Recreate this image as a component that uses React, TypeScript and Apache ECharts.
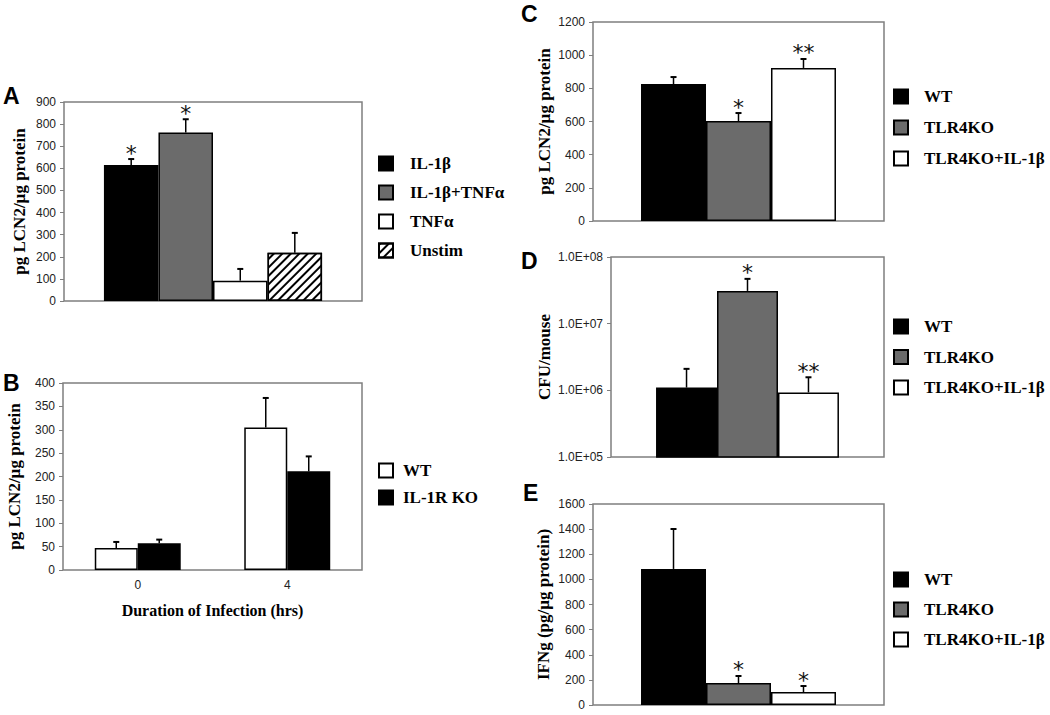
import React, { useEffect, useRef } from 'react';
import * as echarts from 'echarts';

const SANS = '"Liberation Sans", Arial, sans-serif';
const SERIF = '"Liberation Serif", "Times New Roman", serif';

// ---- Panel A ----
const aNames = ['IL-1β', 'IL-1β+TNFα', 'TNFα', 'Unstim'];
const aMeans = [615, 762, 92, 218];
const aUpper = [642, 822, 145, 308];
const aSig = ['*', '*', '', ''];

// ---- Panel B ----
const bCats = ['0', '4'];
const bNames = ['WT', 'IL-1R KO'];
const bWT = [47, 305];
const bWTUpper = [60, 368];
const bKO = [57, 211];
const bKOUpper = [65, 243];

// ---- Panels C, D, E ----
const tlrNames = ['WT', 'TLR4KO', 'TLR4KO+IL-1β'];
const cMeans = [826, 603, 923];
const cUpper = [868, 651, 977];
const cSig = ['', '*', '**'];

const dMeans = [1.1e6, 3.1e7, 9.3e5];
const dUpper = [2.1e6, 4.7e7, 1.57e6];
const dSig = ['', '*', '**'];

const eMeans = [1083, 175, 103];
const eUpper = [1401, 231, 151];
const eSig = ['', '*', '*'];

const BLACK = '#000000';
const GRAY = '#6b6b6b';
const WHITE = '#ffffff';
const BORDER = '#7f7f7f';

const hatch = {
  symbol: 'rect',
  color: '#000',
  dashArrayX: [1, 0],
  dashArrayY: [1.6, 3.6],
  rotation: -Math.PI / 4,
  symbolSize: 1,
};

const aColors = [BLACK, GRAY, WHITE, WHITE];
const bColors = [WHITE, BLACK];
const tlrColors = [BLACK, GRAY, WHITE];

function barItemStyle(color: string, decal?: any) {
  const s: any = { color, borderColor: '#000', borderWidth: 1.5 };
  if (decal) s.decal = decal;
  return s;
}

function errSeries(gi: number, n: number, gap: number, items: number[][], sigs: string[]) {
  return {
    type: 'custom',
    xAxisIndex: gi,
    yAxisIndex: gi,
    z: 5,
    silent: true,
    clip: false,
    encode: { x: 0, y: [2, 3] },
    data: items,
    renderItem: (params: any, api: any) => {
      const cat = api.value(0);
      const idx = api.value(1);
      const mean = api.value(2);
      const up = api.value(3);
      const band = api.size([1, 0], [cat, mean])[0];
      const bw = (band * (1 - gap)) / n;
      const p0 = api.coord([cat, mean]);
      const p1 = api.coord([cat, up]);
      const x = p0[0] + (idx - (n - 1) / 2) * bw;
      const children: any[] = [
        { type: 'line', shape: { x1: x, y1: p0[1], x2: x, y2: p1[1] }, style: { stroke: '#000', lineWidth: 1.5 } },
        { type: 'line', shape: { x1: x - 3, y1: p1[1], x2: x + 3, y2: p1[1] }, style: { stroke: '#000', lineWidth: 2 } },
      ];
      const sig = sigs[params.dataIndex];
      if (sig) {
        children.push({
          type: 'text',
          style: {
            text: sig,
            x,
            y: p1[1] - 6,
            align: 'center',
            verticalAlign: 'middle',
            fill: '#111',
            font: `normal 22px "DejaVu Sans", ${SANS}`,
          },
        });
      }
      return { type: 'group', children };
    },
  };
}

const plainNum = (v: number) => String(v);

function yAxisBase(gi: number, name: string, nameGap: number, extra: any) {
  return Object.assign(
    {
      type: 'value',
      gridIndex: gi,
      name,
      nameLocation: 'middle',
      nameGap,
      nameRotate: 90,
      nameTextStyle: { fontFamily: SERIF, fontWeight: 'bold', fontSize: 17, color: '#000' },
      axisLine: { show: false },
      axisTick: { show: true, length: 4, lineStyle: { color: BORDER } },
      splitLine: { show: false },
      axisLabel: { fontFamily: SANS, fontSize: 12, color: '#222', margin: 8, formatter: plainNum },
    },
    extra
  );
}

function xAxisSingle(gi: number) {
  return {
    type: 'category',
    gridIndex: gi,
    data: [''],
    axisLine: { show: false },
    axisTick: { show: false },
    axisLabel: { show: false },
  };
}

function legendOf(left: number, top: number, gap: number, pad: number, names: string[], colors: string[], decals: any[]) {
  return {
    orient: 'vertical',
    left,
    top,
    padding: 0,
    itemWidth: 14,
    itemHeight: 14,
    itemGap: gap,
    icon: 'rect',
    selectedMode: false,
    textStyle: { fontFamily: SERIF, fontWeight: 'bold', fontSize: 17, color: '#000', padding: [0, 0, 0, pad] },
    data: names.map((nm, i) => {
      const st: any = { color: colors[i], borderColor: '#000', borderWidth: 2 };
      if (decals[i]) st.decal = decals[i];
      return { name: nm, itemStyle: st };
    }),
  };
}

export default function App() {
  const ref = useRef<HTMLDivElement>(null);
  useEffect(() => {
    if (!ref.current) return;
    const chart = echarts.init(ref.current, null, { renderer: 'svg' });

    const gapA = 0.268;
    const gapB = 0.425;
    const gapC = 0.33;
    const gapD = 0.33;
    const gapE = 0.33;

    const series: any[] = [];
    // A
    aNames.forEach((nm, i) => {
      series.push({
        type: 'bar', name: nm, xAxisIndex: 0, yAxisIndex: 0,
        barGap: '0%', barCategoryGap: `${gapA * 100}%`,
        itemStyle: barItemStyle(aColors[i], i === 3 ? hatch : undefined),
        data: [aMeans[i]],
      });
    });
    series.push(errSeries(0, 4, gapA, aMeans.map((m, i) => [0, i, m, aUpper[i]]), aSig));
    // B
    const bVals = [bWT, bKO];
    const bUps = [bWTUpper, bKOUpper];
    bNames.forEach((nm, i) => {
      series.push({
        type: 'bar', name: nm, xAxisIndex: 1, yAxisIndex: 1,
        barGap: '0%', barCategoryGap: `${gapB * 100}%`,
        itemStyle: barItemStyle(bColors[i]),
        data: bVals[i],
      });
    });
    const bItems: number[][] = [];
    bCats.forEach((_, c) => bNames.forEach((__, i) => bItems.push([c, i, bVals[i][c], bUps[i][c]])));
    series.push(errSeries(1, 2, gapB, bItems, bItems.map(() => '')));
    // C, D, E
    const panels = [
      { gi: 2, means: cMeans, ups: cUpper, sig: cSig, gap: gapC },
      { gi: 3, means: dMeans, ups: dUpper, sig: dSig, gap: gapD },
      { gi: 4, means: eMeans, ups: eUpper, sig: eSig, gap: gapE },
    ];
    panels.forEach((p) => {
      tlrNames.forEach((nm, i) => {
        series.push({
          type: 'bar', name: nm, xAxisIndex: p.gi, yAxisIndex: p.gi,
          barGap: '0%', barCategoryGap: `${p.gap * 100}%`,
          itemStyle: barItemStyle(tlrColors[i]),
          data: [p.means[i]],
        });
      });
      series.push(errSeries(p.gi, 3, p.gap, p.means.map((m, i) => [0, i, m, p.ups[i]]), p.sig));
    });

    const gridBase = { show: true, borderColor: BORDER, borderWidth: 1.5, backgroundColor: 'transparent', containLabel: false };

    const option: any = {
      animation: false,
      backgroundColor: '#ffffff',
      title: [
        { text: 'A', left: 3, top: 84 },
        { text: 'B', left: 3, top: 371 },
        { text: 'C', left: 521, top: 2 },
        { text: 'D', left: 521, top: 249 },
        { text: 'E', left: 523, top: 481 },
      ].map((t) => ({ ...t, padding: 0, textStyle: { fontFamily: SANS, fontWeight: 'bold', fontSize: 23, color: '#000' } })),
      grid: [
        { ...gridBase, left: 64, top: 102, width: 298, height: 199 },
        { ...gridBase, left: 63, top: 383, width: 299, height: 187 },
        { ...gridBase, left: 593, top: 22, width: 291, height: 199 },
        { ...gridBase, left: 611, top: 257, width: 273, height: 200 },
        { ...gridBase, left: 593, top: 504, width: 291, height: 201 },
      ],
      xAxis: [
        xAxisSingle(0),
        {
          type: 'category', gridIndex: 1, data: bCats,
          axisLine: { show: false }, axisTick: { show: false },
          axisLabel: { fontFamily: SANS, fontSize: 12, color: '#222', margin: 9 },
          name: 'Duration of Infection (hrs)', nameLocation: 'middle', nameGap: 32,
          nameTextStyle: { fontFamily: SERIF, fontWeight: 'bold', fontSize: 16, color: '#000' },
        },
        xAxisSingle(2),
        xAxisSingle(3),
        xAxisSingle(4),
      ],
      yAxis: [
        yAxisBase(0, 'pg LCN2/µg protein', 36, { min: 0, max: 900, interval: 100 }),
        yAxisBase(1, 'pg LCN2/µg protein', 40, { min: 0, max: 400, interval: 50 }),
        yAxisBase(2, 'pg LCN2/µg protein', 40, { min: 0, max: 1200, interval: 200 }),
        yAxisBase(3, 'CFU/mouse', 58, {
          type: 'log', logBase: 10, min: 1e5, max: 1e8,
          axisLabel: {
            fontFamily: SANS, fontSize: 12, color: '#222', margin: 8,
            formatter: (v: number) => v.toExponential(1).toUpperCase().replace(/E\+(\d)$/, 'E+0$1'),
          },
        }),
        yAxisBase(4, 'IFNg (pg/µg protein)', 41, { min: 0, max: 1600, interval: 200 }),
      ],
      legend: [
        legendOf(378, 155, 12, 12, aNames, aColors, [null, null, null, hatch]),
        legendOf(378, 462, 10, 5, bNames, bColors, [null, null]),
        legendOf(893, 88, 14, 11, tlrNames, tlrColors, [null, null, null]),
        legendOf(893, 318, 13.5, 11, tlrNames, tlrColors, [null, null, null]),
        legendOf(893, 571, 13, 11, tlrNames, tlrColors, [null, null, null]),
      ],
      series,
    };
    chart.setOption(option);
    return () => chart.dispose();
  }, []);
  return <div ref={ref} style={{ position: 'fixed', left: 0, top: 0, width: 1050, height: 715 }} />;
}
